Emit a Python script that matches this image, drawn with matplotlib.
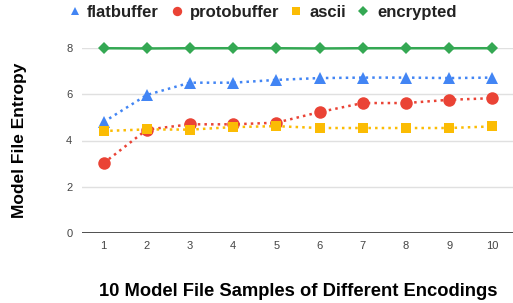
import matplotlib
matplotlib.use("Agg")
import matplotlib.pyplot as plt
from matplotlib.lines import Line2D

samples = [1, 2, 3, 4, 5, 6, 7, 8, 9, 10]
flatbuffer = [4.8, 5.97, 6.5, 6.5, 6.62, 6.7, 6.72, 6.72, 6.7, 6.72]
protobuffer = [3.02, 4.47, 4.7, 4.7, 4.77, 5.23, 5.62, 5.62, 5.76, 5.83]
ascii_ = [4.41, 4.48, 4.47, 4.58, 4.62, 4.54, 4.54, 4.54, 4.54, 4.61]
encrypted = [7.99, 7.98, 7.99, 7.99, 7.99, 7.98, 7.99, 7.99, 7.99, 7.99]
yticks = [0, 2, 4, 6, 8]

plt.rcParams['font.family'] = ['Liberation Sans', 'DejaVu Sans']

W, H = 513, 303
fig = plt.figure(figsize=(W / 100, H / 100), dpi=100)
ax = fig.add_axes([82 / W, 1 - 233 / H, (514 - 82) / W, (233 - 48) / H])

series = [
    ("flatbuffer", flatbuffer, "#4285F4", "^", 8, ":"),
    ("protobuffer", protobuffer, "#EA4335", "o", 9, ":"),
    ("ascii", ascii_, "#FBBC04", "s", 7, ":"),
    ("encrypted", encrypted, "#34A853", "D", 6.5, "-"),
]
# legend layout (pixel positions: marker x, text x)
legend_pos = [(75, 87), (177, 190), (296, 309), (363, 377)]
leg_y = 1 - 11 / H

for (name, vals, col, mk, ms, ls), (mx, tx) in zip(series, legend_pos):
    ax.plot(samples, vals, color=col, linestyle=ls, linewidth=1.8,
            marker=mk, markersize=ms, markeredgewidth=0, clip_on=False, zorder=3)
    fig.add_artist(Line2D([mx / W], [leg_y], color=col, marker=mk, linestyle="none",
                          markersize=ms * 0.75, markeredgewidth=0,
                          transform=fig.transFigure))
    fig.text(tx / W, leg_y, name, fontsize=12, fontweight="bold", color="#222222",
             ha="left", va="center_baseline")

ax.set_xlim(0.5, 10.5)
ax.set_ylim(0, 8)
ax.set_xticks(samples)
ax.set_yticks(yticks)
ax.tick_params(length=0, labelsize=8, colors="#444444", pad=6)
ax.tick_params(axis="y", pad=7)
for s in ax.spines.values():
    s.set_visible(False)
ax.grid(axis="y", color="#e0e0e0", linewidth=1)
ax.axhline(0, color="#333333", linewidth=1.2, zorder=2)
ax.set_axisbelow(True)

ax.set_xlabel("10 Model File Samples of Different Encodings", fontsize=13.2,
              fontweight="bold", labelpad=23)
ax.set_ylabel("Model File Entropy", fontsize=12.5, fontweight="bold", labelpad=0)
ax.yaxis.set_label_coords((27 - 82) / (514 - 82), 0.5)

fig.savefig("out.png", dpi=100)
